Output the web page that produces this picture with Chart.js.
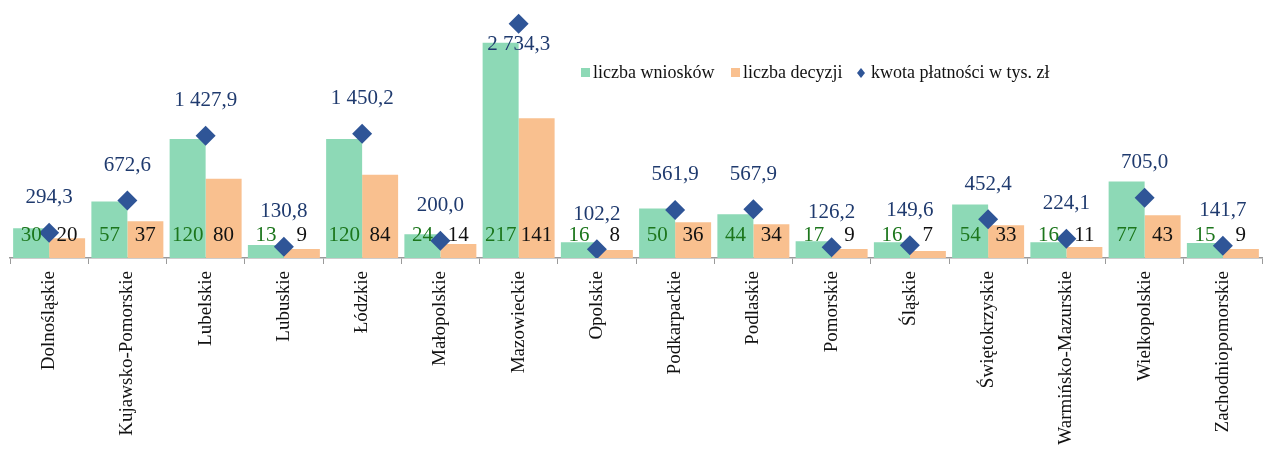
<!DOCTYPE html>
<html lang="pl">
<head>
<meta charset="utf-8">
<title>Wnioski, decyzje i płatności wg województw</title>
<script src="https://cdn.jsdelivr.net/npm/chart.js@4/dist/chart.umd.min.js"></script>
<style>
    html, body { margin: 0; padding: 0; background: #fff; overflow: hidden; }
    #wrap { width: 1272px; height: 450px; position: relative; }
</style>
</head>
<body>
<div id="wrap"><canvas id="chartVoivodeships"></canvas></div>
<script>
    /**
     * Voivodeships
     */
    const regions = [
        'Dolnośląskie', 'Kujawsko-Pomorskie', 'Lubelskie', 'Lubuskie',
        'Łódzkie', 'Małopolskie', 'Mazowieckie', 'Opolskie',
        'Podkarpackie', 'Podlaskie', 'Pomorskie', 'Śląskie',
        'Świętokrzyskie', 'Warmińsko-Mazurskie', 'Wielkopolskie', 'Zachodniopomorskie'
    ];

    /**
     * Applications
     */
    const applications = [30, 57, 120, 13, 120, 24, 217, 16, 50, 44, 17, 16, 54, 16, 77, 15];

    /**
     * Decisions
     */
    const decisions = [20, 37, 80, 9, 84, 14, 141, 8, 36, 34, 9, 7, 33, 11, 43, 9];

    /**
     * Payments (thousand PLN)
     */
    const payments = [294.3, 672.6, 1427.9, 130.8, 1450.2, 200.0, 2734.3, 102.2, 561.9, 567.9, 126.2, 149.6, 452.4, 224.1, 705.0, 141.7];

    /**
     * Colours
     */
    const green = '#8dd9b6';
    const orange = '#f9c08f';
    const navy = '#2f5597';

    const SERIF = "'Liberation Serif', 'DejaVu Serif', serif";

    /**
     * 2734.3 -> "2 734,3"
     */
    function fmt(v) {
        const parts = v.toFixed(1).split('.');
        return parts[0].replace(/\B(?=(\d{3})+(?!\d))/g, ' ') + ',' + parts[1];
    }

    /**
     * Value labels
     */
    const valueLabels = {
        id: 'valueLabels',
        afterDatasetsDraw(chart) {
            const ctx = chart.ctx;
            const area = chart.chartArea;
            ctx.save();
            ctx.font = '21px ' + SERIF;
            ctx.textAlign = 'center';
            ctx.textBaseline = 'middle';

            chart.data.datasets.forEach((ds, di) => {
                const meta = chart.getDatasetMeta(di);
                meta.data.forEach((el, i) => {
                    const v = ds.data[i];
                    if (ds.type === 'bar') {
                        ctx.fillStyle = di === 0 ? '#1c761c' : '#111';
                        ctx.fillText(String(v), el.x, area.bottom - 23);
                    } else {
                        ctx.fillStyle = '#1f3a6e';
                        let y = el.y - 35;
                        if (y - 10 < 0) y = el.y + 21;
                        ctx.fillText(fmt(v), el.x, y);
                    }
                });
            });
            ctx.restore();
        }
    };

    /**
     * Legend
     */
    const legendBox = {
        id: 'legendBox',
        afterDraw(chart) {
            const ctx = chart.ctx;
            const y = 73;
            ctx.save();
            ctx.font = '18px ' + SERIF;
            ctx.textBaseline = 'middle';
            ctx.textAlign = 'left';
            ctx.fillStyle = '#111';

            let x = 581;
            ctx.fillStyle = green;
            ctx.fillRect(x, y - 5, 9, 9);
            ctx.fillStyle = '#111';
            ctx.fillText('liczba wniosków', x + 12, y);

            x = 731;
            ctx.fillStyle = orange;
            ctx.fillRect(x, y - 5, 9, 9);
            ctx.fillStyle = '#111';
            ctx.fillText('liczba decyzji', x + 12, y);

            x = 861;
            ctx.fillStyle = navy;
            ctx.beginPath();
            ctx.moveTo(x, y - 5);
            ctx.lineTo(x + 4, y);
            ctx.lineTo(x, y + 5);
            ctx.lineTo(x - 4, y);
            ctx.closePath();
            ctx.fill();
            ctx.fillStyle = '#111';
            ctx.fillText('kwota płatności w tys. zł', x + 10, y);
            ctx.restore();
        }
    };

    /**
     * Chart
     */
    new Chart(document.getElementById('chartVoivodeships'), {
        type: 'bar',
        data: {
            labels: regions,
            datasets: [
                {
                    type: 'bar',
                    label: 'liczba wniosków',
                    backgroundColor: green,
                    data: applications,
                    yAxisID: 'y',
                    order: 2,
                    categoryPercentage: 0.92,
                    barPercentage: 1
                },
                {
                    type: 'bar',
                    label: 'liczba decyzji',
                    backgroundColor: orange,
                    data: decisions,
                    yAxisID: 'y',
                    order: 2,
                    categoryPercentage: 0.92,
                    barPercentage: 1
                },
                {
                    type: 'line',
                    label: 'kwota płatności w tys. zł',
                    data: payments,
                    yAxisID: 'y1',
                    order: 1,
                    showLine: false,
                    pointStyle: 'rectRot',
                    pointRadius: 10,
                    pointHoverRadius: 10,
                    pointBackgroundColor: navy,
                    pointBorderColor: navy,
                    pointBorderWidth: 0
                }
            ]
        },
        options: {
            responsive: true,
            maintainAspectRatio: false,
            animation: false,
            layout: { padding: { left: 9, right: 1, top: 8, bottom: 0 } },
            plugins: {
                legend: { display: false },
                tooltip: { enabled: false }
            },
            scales: {
                x: {
                    offset: true,
                    grid: {
                        offset: true,
                        drawOnChartArea: false,
                        drawTicks: true,
                        tickLength: 6,
                        color: '#9a9a9a'
                    },
                    border: { display: true, color: '#9a9a9a', width: 1.5 },
                    ticks: {
                        autoSkip: false,
                        minRotation: 90,
                        maxRotation: 90,
                        padding: 7,
                        color: '#111',
                        font: { family: SERIF, size: 19 }
                    },
                    afterFit(scale) { scale.height = 192; }
                },
                y: {
                    display: false,
                    min: 0,
                    max: 250
                },
                y1: {
                    display: false,
                    position: 'right',
                    min: 0,
                    max: 2896
                }
            }
        },
        plugins: [valueLabels, legendBox]
    });
</script>
</body>
</html>
